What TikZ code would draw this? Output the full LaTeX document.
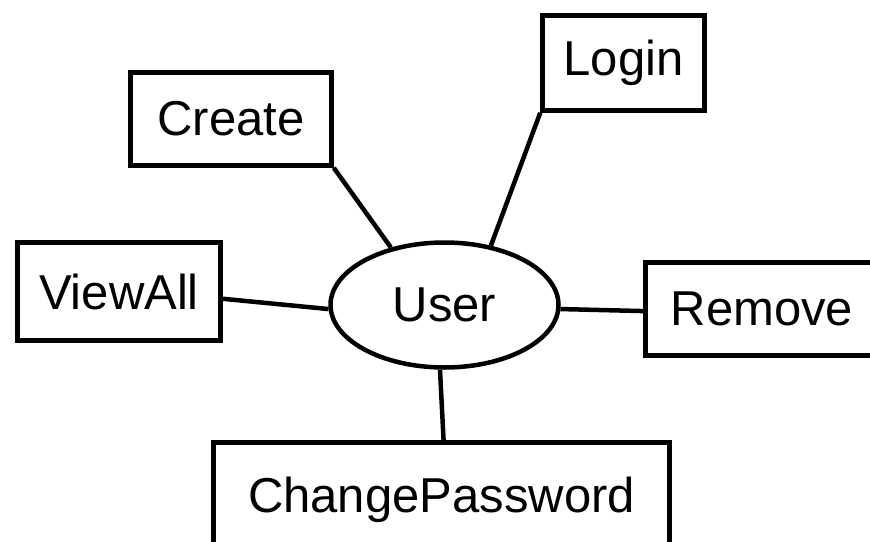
\documentclass[tikz,border=0pt]{standalone}
\usepackage{fontspec}
\setmainfont{Liberation Sans}
\usetikzlibrary{shapes.geometric}
\begin{document}
\begin{tikzpicture}[x=1pt,y=-1pt,
  every node/.style={font=\fontsize{49}{55}\selectfont, inner sep=0pt},
  actbox/.style={draw, line width=4.5pt, rectangle},
  userell/.style={draw, line width=4.5pt, ellipse},
  link/.style={line width=4.5pt}]
\useasboundingbox (0,0) rectangle (870,541);
\clip (0,0) rectangle (870,541);
\node[userell, minimum width=228pt, minimum height=125pt] (user) at (444.5,305) {User};
\node[actbox, minimum width=162pt, minimum height=95pt] (login) at (623.5,63) {Login};
\node[actbox, minimum width=201pt, minimum height=93pt] (create) at (231,119) {Create};
\node[actbox, minimum width=203pt, minimum height=98pt] (viewall) at (119,291.5) {ViewAll};
\node[actbox, minimum width=233pt, minimum height=93pt] (remove) at (762,309) {Remove};
\node[actbox, minimum width=456pt, minimum height=115pt] (cp) at (441.5,500) {ChangePassword};
\draw[link] (create.south east) -- (user.133);
\draw[link] (login.south west) -- (user.52);
\draw[link] (viewall.-4) -- (user.182);
\draw[link] (user.-2) -- (remove.181);
\draw[link] (user.266) -- (cp.88);
\end{tikzpicture}
\end{document}
